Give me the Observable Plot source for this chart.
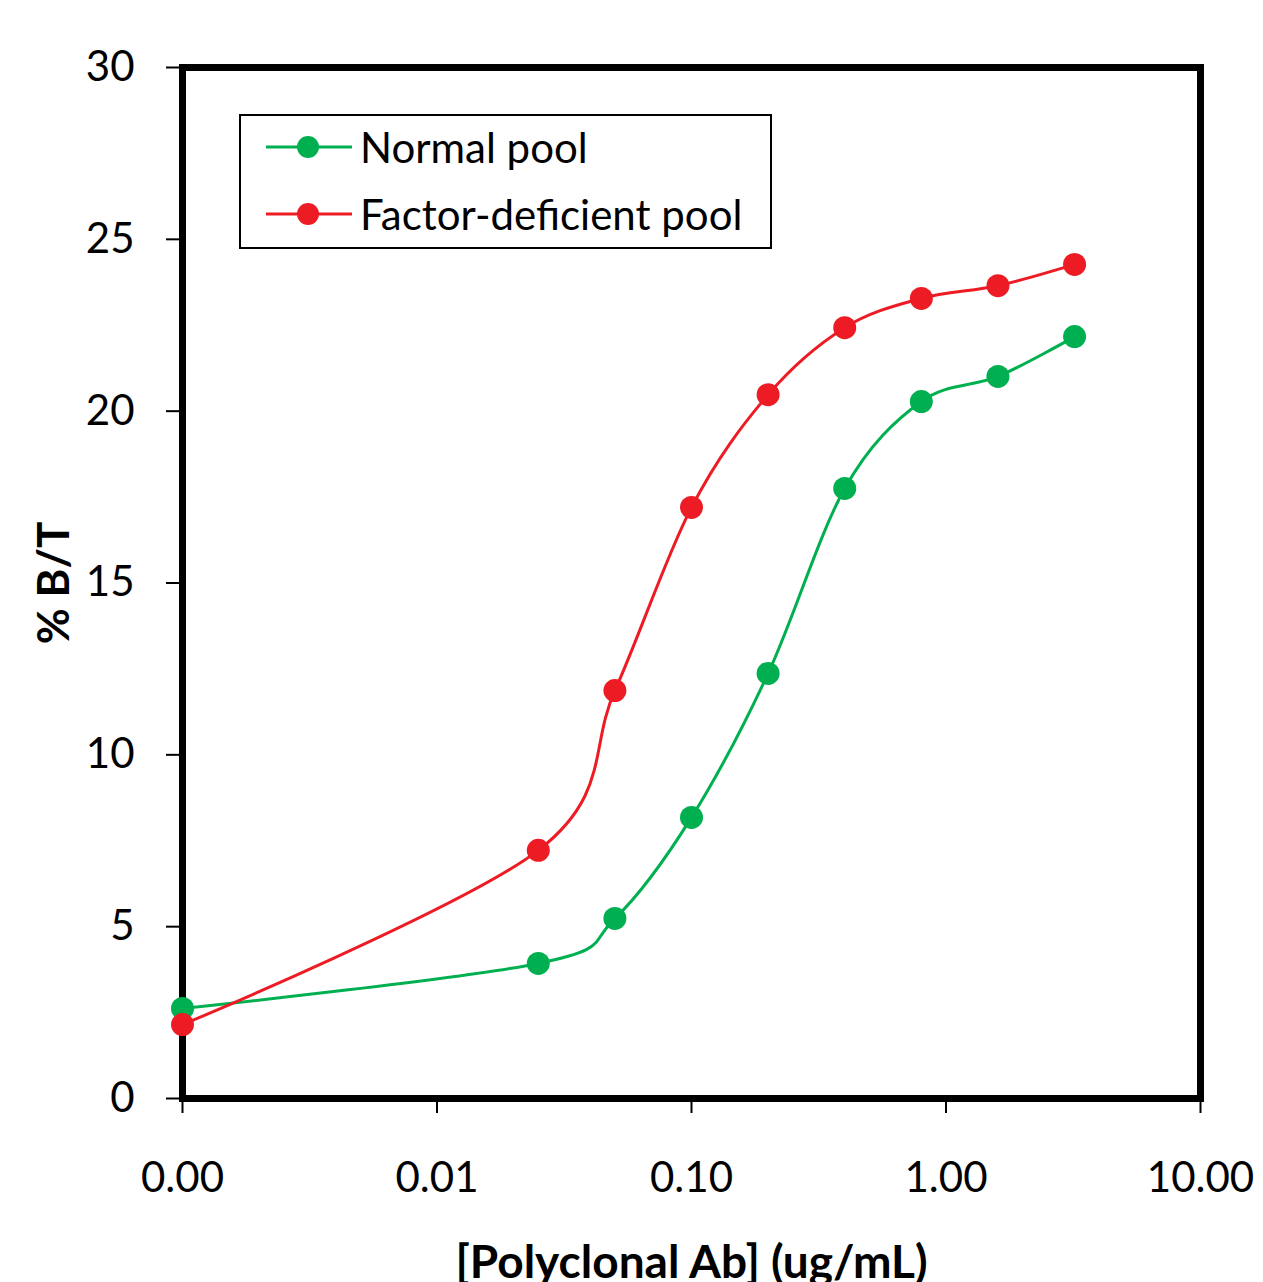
<!DOCTYPE html>
<html>
<head>
<meta charset="utf-8">
<script src="https://cdn.jsdelivr.net/npm/d3@7"></script>
<script src="https://cdn.jsdelivr.net/npm/@observablehq/plot@0.6"></script>
<style>
  html, body { margin: 0; padding: 0; background: #fff; }
  #wrap { position: relative; width: 1263px; height: 1282px; overflow: hidden; font-family: Lato, "Open Sans", sans-serif; }
  #legend { position: absolute; left: 239px; top: 114px; width: 529px; height: 131px; border: 2px solid #000; background: #fff; }
  .row { position: absolute; left: 0; height: 50px; display: flex; align-items: center; }
  .row svg { display: block; }
  .row span { font-size: 42px; color: #000; margin-left: 4px; line-height: 50px; }
</style>
</head>
<body>
<div id="wrap"></div>
<script>
// ---- data ----
const concentrations = [0.001, 0.025, 0.05, 0.1, 0.2, 0.4, 0.8, 1.6, 3.2];
const normalPool = [2.62, 3.93, 5.24, 8.18, 12.37, 17.75, 20.28, 21.01, 22.17];
const deficientPool = [2.15, 7.22, 11.87, 17.20, 20.48, 22.43, 23.28, 23.65, 24.27];
const seriesNames = ["Normal pool", "Factor-deficient pool"];
const seriesColors = ["#00B050", "#ED1C24"];
const xTicks = [0.001, 0.01, 0.1, 1, 10];
const yTicks = [0, 5, 10, 15, 20, 25, 30];
const xLabel = "[Polyclonal Ab] (ug/mL)";
const yLabel = "% B/T";

const normalData = concentrations.map((c, i) => ({x: c, y: normalPool[i]}));
const deficientData = concentrations.map((c, i) => ({x: c, y: deficientPool[i]}));

const font = "Lato, 'Open Sans', sans-serif";

const chart = Plot.plot({
  width: 1263,
  height: 1282,
  marginLeft: 182,
  marginRight: 63,
  marginTop: 67,
  marginBottom: 184,
  style: {fontFamily: font, fontSize: "42px", color: "#000", background: "#fff", overflow: "visible"},
  x: {type: "log", domain: [0.001, 10]},
  y: {domain: [0, 30]},
  marks: [
    Plot.axisX({
      ticks: xTicks, tickFormat: d3.format(".2f"), tickSize: 15, tickPadding: 49,
      strokeWidth: 2, label: xLabel, labelAnchor: "center", labelArrow: "none", labelOffset: 179
    }),
    Plot.axisY({
      ticks: yTicks, tickSize: 16, tickPadding: 32, strokeWidth: 2,
      label: yLabel, labelAnchor: "center", labelArrow: "none", labelOffset: 145
    }),
    Plot.frame({stroke: "#000", strokeWidth: 7}),
    Plot.line(normalData, {x: "x", y: "y", stroke: seriesColors[0], strokeWidth: 3, curve: "cardinal"}),
    Plot.dot(normalData, {x: "x", y: "y", fill: seriesColors[0], r: 11.5}),
    Plot.line(deficientData, {x: "x", y: "y", stroke: seriesColors[1], strokeWidth: 3, curve: "cardinal"}),
    Plot.dot(deficientData, {x: "x", y: "y", fill: seriesColors[1], r: 11.5})
  ]
});

// make axis titles bold (x title slightly larger, as in the reference)
chart.querySelectorAll('[aria-label="x-axis label"], [aria-label="y-axis label"]').forEach(g => {
  g.setAttribute("font-weight", "bold");
});
const xl = chart.querySelector('[aria-label="x-axis label"]');
if (xl) xl.setAttribute("font-size", "46px");
const yl = chart.querySelector('[aria-label="y-axis label"]');
if (yl) yl.setAttribute("font-size", "44px");

const wrap = document.getElementById("wrap");
wrap.appendChild(chart);

// legend (overlay inside plot area)
const legend = document.createElement("div");
legend.id = "legend";
seriesNames.forEach((name, i) => {
  const row = document.createElement("div");
  row.className = "row";
  row.style.top = (i === 0 ? 6 : 73) + "px";
  const sw = d3.create("svg").attr("width", 115).attr("height", 50);
  sw.append("line").attr("x1", 25).attr("x2", 111).attr("y1", 25).attr("y2", 25)
    .attr("stroke", seriesColors[i]).attr("stroke-width", 3);
  sw.append("circle").attr("cx", 67).attr("cy", 25).attr("r", 11).attr("fill", seriesColors[i]);
  row.appendChild(sw.node());
  const t = document.createElement("span");
  t.textContent = name;
  row.appendChild(t);
  legend.appendChild(row);
});
wrap.appendChild(legend);
</script>
</body>
</html>
